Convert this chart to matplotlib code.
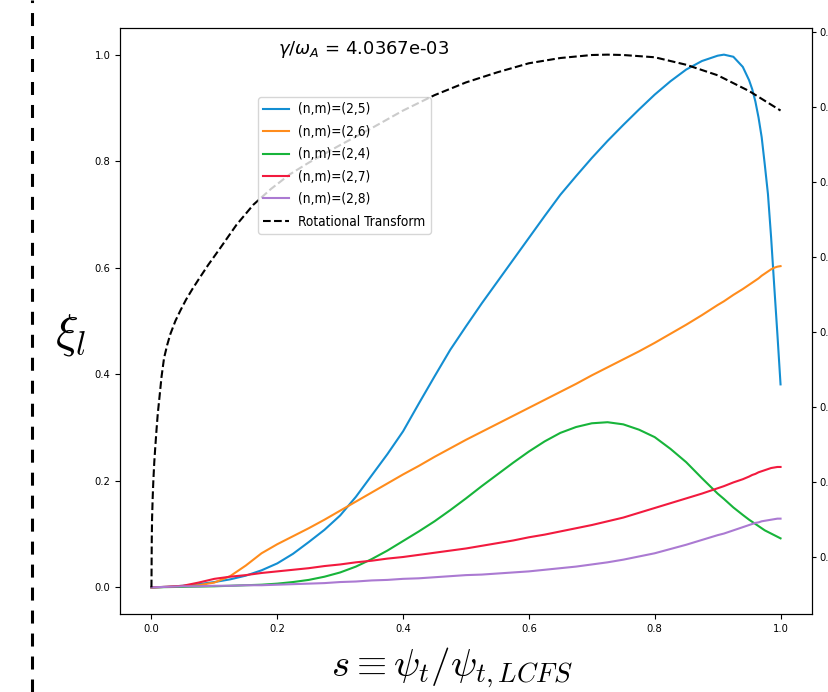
import matplotlib
matplotlib.use("Agg")
import matplotlib.pyplot as plt
from matplotlib.lines import Line2D
from matplotlib.font_manager import FontProperties

# ---------------- data ----------------
s = [0, .025, .05, .075, .1, .125, .15, .175, .2, .225, .25, .275, .3, .325, .35, .375, .4, .425,
     .45, .475, .5, .525, .55, .575, .6, .625, .65, .675, .7, .725, .75, .775, .8, .825, .85, .875,
     .9, .91, .925, .94, .95, .955, .96, .965, .97, .975, .98, .985, .99, .995, 1.0]

xi_25 = [0, .001, .003, .006, .010, .015, .022, .032, .045, .063, .085, .108, .135, .170, .210, .250,
         .293, .345, .396, .446, .490, .533, .574, .615, .656, .697, .737, .772, .806, .838, .868, .897,
         .925, .950, .972, .988, .998, 1.0, .996, .977, .952, .935, .912, .882, .845, .793, .738, .657,
         .565, .475, .381]
xi_26 = [0, .001, .002, .004, .009, .021, .041, .064, .081, .096, .111, .127, .144, .161, .178, .195,
         .212, .228, .245, .261, .277, .292, .307, .322, .337, .352, .367, .382, .398, .413, .428, .443,
         .459, .476, .493, .511, .530, .537, .549, .560, .568, .572, .576, .580, .585, .589, .593, .597,
         .600, .602, .603]
xi_24 = [0, .0005, .001, .0015, .002, .003, .004, .005, .007, .010, .014, .020, .028, .039, .053, .069,
         .087, .105, .124, .145, .167, .190, .212, .234, .255, .274, .290, .301, .308, .310, .306, .296,
         .282, .260, .235, .205, .176, .166, .150, .136, .127, .123, .119, .115, .111, .107, .104, .101,
         .098, .095, .092]
xi_27 = [0, .001, .003, .009, .016, .020, .023, .027, .030, .033, .036, .040, .043, .047, .050, .054,
         .057, .061, .065, .069, .073, .078, .083, .088, .094, .099, .105, .111, .117, .124, .131, .140,
         .149, .158, .167, .176, .186, .190, .197, .203, .208, .211, .213, .216, .218, .220, .222, .224,
         .225, .226, .226]
xi_28 = [0, .001, .002, .002, .003, .003, .004, .004, .005, .006, .007, .008, .010, .011, .013, .014,
         .016, .017, .019, .021, .023, .024, .026, .028, .030, .033, .036, .039, .043, .047, .052, .058,
         .064, .072, .080, .089, .098, .101, .107, .113, .117, .119, .121, .122, .124, .125, .126, .127,
         .128, .129, .129]

s_iota = [0, .0005, .001, .002, .003, .0045, .006, .008, .01, .013, .016, .02, .025, .03, .038, .046,
          .055, .065, .075, .09, .11, .135, .162, .19, .22, .25, .3, .35, .4, .45, .5, .55, .6, .65, .7,
          .725, .75, .8, .85, .9, .95, 1.0]
iota = [.3120, .3248, .3305, .3361, .3404, .3454, .3492, .3539, .3582, .3631, .3681, .3731, .3766,
        .3795, .3830, .3858, .3887, .3915, .3941, .3979, .4026, .4086, .4140, .4182, .4221, .4252,
        .4299, .4344, .4391, .4432, .4466, .4493, .4517, .4531, .4539, .4540, .4539, .4533, .4513,
        .4485, .4443, .4391]

labels = ["(n,m)=(2,5)", "(n,m)=(2,6)", "(n,m)=(2,4)", "(n,m)=(2,7)", "(n,m)=(2,8)"]
colors = ["#138ed2", "#ff8c1c", "#17b43a", "#f21a3e", "#ab7ad2"]
growth_text = r"$\gamma/\omega_A$ = 4.0367e-03"

# ---------------- figure ----------------
W, H = 829, 692
fig = plt.figure(figsize=(W / 100, H / 100), dpi=100)
ax = fig.add_axes([120 / W, 1 - 614 / H, (812 - 120) / W, (614 - 28) / H])
ax2 = ax.twinx()

handles = []
for ys, lab, col in zip([xi_25, xi_26, xi_24, xi_27, xi_28], labels, colors):
    h, = ax.plot(s, ys, color=col, lw=1.5, label=lab)
    handles.append(h)

hi, = ax2.plot(s_iota, iota, "k--", lw=1.5, label="Rotational Transform")
handles.append(hi)

ax2.tick_params(axis="y", length=3, pad=2)

tick_fp = FontProperties(family="DejaVu Sans", stretch="condensed", size=8)
for a in (ax, ax2):
    for lab in a.get_xticklabels() + a.get_yticklabels():
        lab.set_fontproperties(tick_fp)

ax.text((278 - 120) / 692, (614 - 50) / 586, growth_text, transform=ax.transAxes,
        fontsize=13, ha="left", va="center", math_fontfamily="dejavusans")

leg = ax2.legend(handles=handles, loc="upper left",
                 bbox_to_anchor=((258 - 120) / 692, (614 - 97) / 586),
                 borderaxespad=0, labelspacing=0.62, handlelength=1.85, handletextpad=0.7,
                 prop=FontProperties(family="DejaVu Sans", stretch="condensed", size=9.8))

ax.set_ylabel(r"$\xi_l$", fontsize=34, rotation=0, math_fontfamily="cm", ha="center", va="center")
ax.yaxis.set_label_coords((71 - 120) / 692, (614 - 335) / 586)
ax.set_xlabel(r"$s \equiv \psi_t/\psi_{t,LCFS}$", fontsize=28, math_fontfamily="cm", va="center")
ax.xaxis.set_label_coords((452 - 120) / 692, (614 - 668) / 586)

# dashed vertical separator on the left
sep = Line2D([32 / W, 32 / W], [0, 1], transform=fig.transFigure, color="black", lw=2.2,
             dashes=(13 / 1.39 / 2.2, 10 / 1.39 / 2.2))
fig.add_artist(sep)

fig.savefig("out.png", dpi=100)
